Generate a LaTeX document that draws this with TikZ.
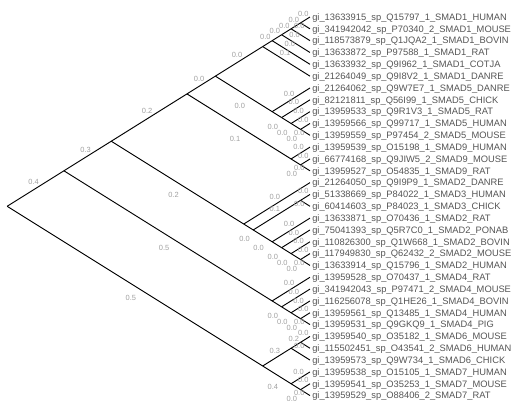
\documentclass[tikz,border=0pt]{standalone}
\usepackage{fontspec}
\setmainfont{Liberation Sans}
\definecolor{leafgrey}{HTML}{555555}
\definecolor{lengrey}{HTML}{A0A0A0}
\tikzset{
  branch/.style={line width=0.7pt, black},
  leaf/.style={anchor=west, inner xsep=1.5pt, inner ysep=0pt, text height=5pt, text depth=0pt, text=leafgrey, font=\fontsize{7}{7}\selectfont},
  blen/.style={pos=0.5, inner sep=0pt, text height=4.2pt, text depth=0pt, text=lengrey, font=\fontsize{5.6}{6}\selectfont},
  lenup/.style={blen, xshift=-1.5pt, yshift=4.9pt},
  lendown/.style={blen, xshift=-3pt, yshift=-9pt},
  lenleaf/.style={blen, xshift=-4.5pt, yshift=0pt},
}

\begin{document}
\begin{tikzpicture}[x=0.75pt, y=-0.75pt]
    \useasboundingbox (0,0) rectangle (515,412);
    % Leaves
    \node[leaf] (l1) at (310,17.00) {gi\_13633915\_sp\_Q15797\_1\_SMAD1\_HUMAN};
    \node[leaf] (l2) at (310,28.83) {gi\_341942042\_sp\_P70340\_2\_SMAD1\_MOUSE};
    \node[leaf] (l3) at (310,40.66) {gi\_118573879\_sp\_Q1JQA2\_1\_SMAD1\_BOVIN};
    \node[leaf] (l4) at (310,52.49) {gi\_13633872\_sp\_P97588\_1\_SMAD1\_RAT};
    \node[leaf] (l5) at (310,64.32) {gi\_13633932\_sp\_Q9I962\_1\_SMAD1\_COTJA};
    \node[leaf] (l6) at (310,76.15) {gi\_21264049\_sp\_Q9I8V2\_1\_SMAD1\_DANRE};
    \node[leaf] (l7) at (310,87.98) {gi\_21264062\_sp\_Q9W7E7\_1\_SMAD5\_DANRE};
    \node[leaf] (l8) at (310,99.81) {gi\_82121811\_sp\_Q56I99\_1\_SMAD5\_CHICK};
    \node[leaf] (l9) at (310,111.64) {gi\_13959533\_sp\_Q9R1V3\_1\_SMAD5\_RAT};
    \node[leaf] (l10) at (310,123.47) {gi\_13959566\_sp\_Q99717\_1\_SMAD5\_HUMAN};
    \node[leaf] (l11) at (310,135.30) {gi\_13959559\_sp\_P97454\_2\_SMAD5\_MOUSE};
    \node[leaf] (l12) at (310,147.13) {gi\_13959539\_sp\_O15198\_1\_SMAD9\_HUMAN};
    \node[leaf] (l13) at (310,158.96) {gi\_66774168\_sp\_Q9JIW5\_2\_SMAD9\_MOUSE};
    \node[leaf] (l14) at (310,170.79) {gi\_13959527\_sp\_O54835\_1\_SMAD9\_RAT};
    \node[leaf] (l15) at (310,182.62) {gi\_21264050\_sp\_Q9I9P9\_1\_SMAD2\_DANRE};
    \node[leaf] (l16) at (310,194.45) {gi\_51338669\_sp\_P84022\_1\_SMAD3\_HUMAN};
    \node[leaf] (l17) at (310,206.28) {gi\_60414603\_sp\_P84023\_1\_SMAD3\_CHICK};
    \node[leaf] (l18) at (310,218.11) {gi\_13633871\_sp\_O70436\_1\_SMAD2\_RAT};
    \node[leaf] (l19) at (310,229.94) {gi\_75041393\_sp\_Q5R7C0\_1\_SMAD2\_PONAB};
    \node[leaf] (l20) at (310,241.77) {gi\_110826300\_sp\_Q1W668\_1\_SMAD2\_BOVIN};
    \node[leaf] (l21) at (310,253.60) {gi\_117949830\_sp\_Q62432\_2\_SMAD2\_MOUSE};
    \node[leaf] (l22) at (310,265.43) {gi\_13633914\_sp\_Q15796\_1\_SMAD2\_HUMAN};
    \node[leaf] (l23) at (310,277.26) {gi\_13959528\_sp\_O70437\_1\_SMAD4\_RAT};
    \node[leaf] (l24) at (310,289.09) {gi\_341942043\_sp\_P97471\_2\_SMAD4\_MOUSE};
    \node[leaf] (l25) at (310,300.92) {gi\_116256078\_sp\_Q1HE26\_1\_SMAD4\_BOVIN};
    \node[leaf] (l26) at (310,312.75) {gi\_13959561\_sp\_Q13485\_1\_SMAD4\_HUMAN};
    \node[leaf] (l27) at (310,324.58) {gi\_13959531\_sp\_Q9GKQ9\_1\_SMAD4\_PIG};
    \node[leaf] (l28) at (310,336.41) {gi\_13959540\_sp\_O35182\_1\_SMAD6\_MOUSE};
    \node[leaf] (l29) at (310,348.24) {gi\_115502451\_sp\_O43541\_2\_SMAD6\_HUMAN};
    \node[leaf] (l30) at (310,360.07) {gi\_13959573\_sp\_Q9W734\_1\_SMAD6\_CHICK};
    \node[leaf] (l31) at (310,371.90) {gi\_13959538\_sp\_O15105\_1\_SMAD7\_HUMAN};
    \node[leaf] (l32) at (310,383.73) {gi\_13959541\_sp\_O35253\_1\_SMAD7\_MOUSE};
    \node[leaf] (l33) at (310,395.56) {gi\_13959529\_sp\_O88406\_2\_SMAD7\_RAT};

    % Inner nodes
    \coordinate (root) at (7.15,206.28);
    \coordinate (k127) at (63.94,170.79);
    \coordinate (k122) at (111.26,141.22);
    \coordinate (k114) at (186.97,93.90);
    \coordinate (k111) at (215.36,76.15);
    \coordinate (k16) at (262.68,46.58);
    \coordinate (k15) at (272.14,40.66);
    \coordinate (k14) at (281.61,34.75);
    \coordinate (k13) at (291.07,28.83);
    \coordinate (k12) at (300.54,22.92);
    \coordinate (k711) at (272.14,111.64);
    \coordinate (k811) at (281.61,117.56);
    \coordinate (k911) at (291.07,123.47);
    \coordinate (k1011) at (300.54,129.39);
    \coordinate (k1214) at (291.07,158.96);
    \coordinate (k1314) at (300.54,164.88);
    \coordinate (k1522) at (243.75,224.03);
    \coordinate (k1622) at (253.22,229.94);
    \coordinate (k1617) at (300.54,200.37);
    \coordinate (k1822) at (272.14,241.77);
    \coordinate (k1922) at (281.61,247.69);
    \coordinate (k2022) at (291.07,253.60);
    \coordinate (k2122) at (300.54,259.52);
    \coordinate (k2327) at (272.14,300.92);
    \coordinate (k2427) at (281.61,306.84);
    \coordinate (k2527) at (291.07,312.75);
    \coordinate (k2627) at (300.54,318.67);
    \coordinate (k2833) at (262.68,365.99);
    \coordinate (k2830) at (291.07,348.24);
    \coordinate (k2829) at (300.54,342.33);
    \coordinate (k3133) at (291.07,383.73);
    \coordinate (k3233) at (300.54,389.65);

    % Backbone
    \draw[branch] (root) -- node[lenup] {0.4} (k127);
    \draw[branch] (root) -- node[lendown] {0.5} (k2833);
    \draw[branch] (k127) -- node[lenup] {0.3} (k122);
    \draw[branch] (k127) -- node[lendown] {0.5} (k2327);
    \draw[branch] (k122) -- node[lenup] {0.2} (k114);
    \draw[branch] (k122) -- node[lendown] {0.2} (k1522);
    \draw[branch] (k114) -- node[lenup] {0.0} (k111);
    \draw[branch] (k114) -- node[lendown] {0.1} (k1214);
    \draw[branch] (k111) -- node[lenup] {0.0} (k16);
    \draw[branch] (k111) -- node[lendown] {0.0} (k711);

    % SMAD1
    \draw[branch] (k16) -- node[lenup] {0.0} (k15);
    \draw[branch] (k16) -- (l6.west);
    \draw[branch] (k15) -- node[lenup] {0.0} (k14);
    \draw[branch] (k15) -- node[lenleaf] {0.1} (l5.west);
    \draw[branch] (k14) -- node[lenup] {0.0} (k13);
    \draw[branch] (k14) -- node[lenleaf] {0.0} (l4.west);
    \draw[branch] (k13) -- node[lenup] {0.0} (k12);
    \draw[branch] (k13) -- node[lenleaf] {0.0} (l3.west);
    \draw[branch] (k12) -- node[lenup] {0.0} (l1.west);
    \draw[branch] (k12) -- node[lenleaf] {0.0} (l2.west);

    % SMAD5 and SMAD9
    \draw[branch] (k711) -- node[lenup] {0.0} (l7.west);
    \draw[branch] (k711) -- node[lendown] {0.0} (k811);
    \draw[branch] (k811) -- node[lenup] {0.0} (l8.west);
    \draw[branch] (k811) -- node[lendown] {0.0} (k911);
    \draw[branch] (k911) -- node[lenup] {0.0} (l9.west);
    \draw[branch] (k911) -- node[lendown] {0.0} (k1011);
    \draw[branch] (k1011) -- node[lenup] {0.0} (l10.west);
    \draw[branch] (k1011) -- node[lenleaf] {0.0} (l11.west);
    \draw[branch] (k1214) -- node[lenup] {0.0} (l12.west);
    \draw[branch] (k1214) -- node[lendown] {0.0} (k1314);
    \draw[branch] (k1314) -- node[lenup] {0.0} (l13.west);
    \draw[branch] (k1314) -- node[lenleaf] {0.0} (l14.west);

    % SMAD2 and SMAD3
    \draw[branch] (k1522) -- node[lenup] {0.0} (l15.west);
    \draw[branch] (k1522) -- node[lendown] {0.0} (k1622);
    \draw[branch] (k1622) -- node[lenup] {0.1} (k1617);
    \draw[branch] (k1622) -- node[lendown] {0.0} (k1822);
    \draw[branch] (k1617) -- node[lenup] {0.0} (l16.west);
    \draw[branch] (k1617) -- node[lenleaf] {0.0} (l17.west);
    \draw[branch] (k1822) -- node[lenup] {0.0} (l18.west);
    \draw[branch] (k1822) -- node[lendown] {0.0} (k1922);
    \draw[branch] (k1922) -- node[lenup] {0.0} (l19.west);
    \draw[branch] (k1922) -- node[lendown] {0.0} (k2022);
    \draw[branch] (k2022) -- node[lenup] {0.0} (l20.west);
    \draw[branch] (k2022) -- node[lendown] {0.0} (k2122);
    \draw[branch] (k2122) -- node[lenup] {0.0} (l21.west);
    \draw[branch] (k2122) -- node[lenleaf] {0.0} (l22.west);

    % SMAD4
    \draw[branch] (k2327) -- node[lenup] {0.0} (l23.west);
    \draw[branch] (k2327) -- node[lendown] {0.0} (k2427);
    \draw[branch] (k2427) -- node[lenup] {0.0} (l24.west);
    \draw[branch] (k2427) -- node[lendown] {0.0} (k2527);
    \draw[branch] (k2527) -- node[lenup] {0.0} (l25.west);
    \draw[branch] (k2527) -- node[lendown] {0.0} (k2627);
    \draw[branch] (k2627) -- node[lenup] {0.0} (l26.west);
    \draw[branch] (k2627) -- node[lenleaf] {0.0} (l27.west);

    % SMAD6 and SMAD7
    \draw[branch] (k2833) -- node[lenup] {0.3} (k2830);
    \draw[branch] (k2833) -- node[lendown] {0.4} (k3133);
    \draw[branch] (k2830) -- node[lenup] {0.2} (k2829);
    \draw[branch] (k2830) -- (l30.west);
    \draw[branch] (k2829) -- node[lenup] {0.0} (l28.west);
    \draw[branch] (k2829) -- node[lenleaf] {0.0} (l29.west);
    \draw[branch] (k3133) -- node[lenup] {0.0} (l31.west);
    \draw[branch] (k3133) -- node[lendown] {0.0} (k3233);
    \draw[branch] (k3233) -- node[lenup] {0.0} (l32.west);
    \draw[branch] (k3233) -- node[lenleaf] {0.0} (l33.west);
\end{tikzpicture}
\end{document}
